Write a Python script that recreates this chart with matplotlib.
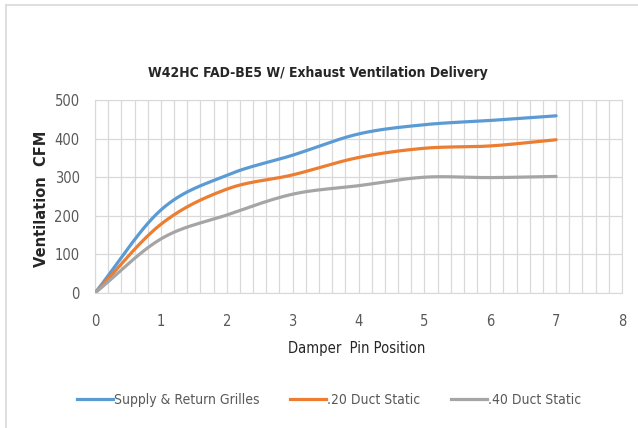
import numpy as np
import matplotlib
matplotlib.use("Agg")
import matplotlib.pyplot as plt
from matplotlib.lines import Line2D
from matplotlib.ticker import MultipleLocator

positions = [0, 1, 2, 3, 4, 5, 6, 7]
supply_return = [0, 215, 305, 357, 412, 436, 447, 459]
duct_20 = [0, 178, 269, 306, 351, 375, 381, 397]
duct_40 = [0, 140, 202, 256, 278, 300, 299, 302]
series_names = ["Supply & Return Grilles", ".20 Duct Static", ".40 Duct Static"]
colors = ["#5B9BD5", "#ED7D31", "#A5A5A5"]

def smooth(xs, ys, n=30):
    xs = np.asarray(xs, float); ys = np.asarray(ys, float)
    px = np.concatenate([[2*xs[0]-xs[1]], xs, [2*xs[-1]-xs[-2]]])
    py = np.concatenate([[2*ys[0]-ys[1]], ys, [2*ys[-1]-ys[-2]]])
    ox, oy = [], []
    t = np.linspace(0, 1, n, endpoint=False)
    for i in range(1, len(px)-2):
        p0, p1, p2, p3 = (np.array([px[j], py[j]]) for j in range(i-1, i+3))
        b1 = p1 + (p2 - p0) / 6
        b2 = p2 - (p3 - p1) / 6
        pts = ((1-t)**3)[:, None]*p1 + (3*(1-t)**2*t)[:, None]*b1 + (3*(1-t)*t**2)[:, None]*b2 + (t**3)[:, None]*p2
        ox.extend(pts[:, 0]); oy.extend(pts[:, 1])
    ox.append(xs[-1]); oy.append(ys[-1])
    return np.array(ox), np.array(oy)

tick_color = "#595959"
cond = dict(family="DejaVu Sans", stretch="condensed")

fig = plt.figure(figsize=(6.38, 4.28), dpi=100)
fig.patch.set_facecolor("white")
ax = fig.add_axes([95/638, 1-293/428, (622-95)/638, (293-100)/428])

for ys, c in zip([supply_return, duct_20, duct_40], colors):
    sx, sy = smooth(positions, ys)
    ax.plot(sx, sy, color=c, lw=2.3, solid_capstyle="round", zorder=3)

ax.set_xlim(0, 8)
ax.set_ylim(0, 500)
ax.xaxis.set_major_locator(MultipleLocator(1))
ax.xaxis.set_minor_locator(MultipleLocator(0.2))
ax.yaxis.set_major_locator(MultipleLocator(100))
ax.grid(which="both", axis="x", color="#D9D9D9", lw=0.9)
ax.grid(which="major", axis="y", color="#D9D9D9", lw=0.9)
ax.set_axisbelow(True)
for s in ax.spines.values():
    s.set_color("#D9D9D9")
ax.tick_params(which="both", length=0, colors=tick_color)
ax.tick_params(axis="x", pad=15)
ax.tick_params(axis="y", pad=11)
for lab in ax.get_xticklabels() + ax.get_yticklabels():
    lab.set_family("DejaVu Sans")
    lab.set_stretch("condensed")
    lab.set_fontsize(10.5)

fig.text(318/638, 1-73/428, "W42HC FAD-BE5 W/ Exhaust Ventilation Delivery",
         ha="center", va="center", fontsize=10, fontweight="bold",
         color="#262626", **cond)
fig.text(42/638, 1-199/428, "Ventilation  CFM", rotation=90, ha="center", va="center",
         fontsize=10.5, fontweight="bold", family="DejaVu Sans", color="#262626")
fig.text(357/638, 1-349/428, "Damper  Pin Position", ha="center", va="center",
         fontsize=10.5, color="#262626", **cond)

handles = [Line2D([0], [0], color=c, lw=2.3) for c in colors]
leg = fig.legend(handles, series_names, loc="center", bbox_to_anchor=(329/638, 1-400/428),
                 ncol=3, frameon=False, handlelength=2.6, handletextpad=0.05,
                 columnspacing=2.2, prop={"family": "DejaVu Sans", "stretch": "condensed", "size": 10})
for t in leg.get_texts():
    t.set_color(tick_color)

# chart border (top and left only)
fig.add_artist(Line2D([6/638, 1], [1-4.5/428, 1-4.5/428], transform=fig.transFigure, color="#D9D9D9", lw=1.2))
fig.add_artist(Line2D([6/638, 6/638], [0, 1-4.5/428], transform=fig.transFigure, color="#D9D9D9", lw=1.2))

fig.savefig("out.png", dpi=100)
